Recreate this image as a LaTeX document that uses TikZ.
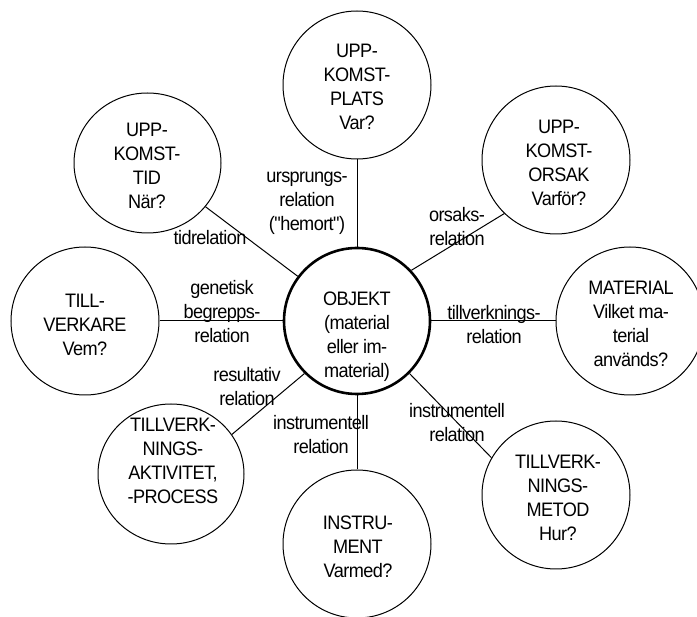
\documentclass[tikz,border=0pt]{standalone}
\usepackage{fontspec}
\setmainfont{Liberation Sans}[FakeStretch=0.93, LetterSpace=-3, Ligatures=TeXOff]
\usetikzlibrary{shapes.geometric}
\begin{document}
\begin{tikzpicture}[x=1pt,y=-1pt,
  every node/.style={font=\fontsize{19.5}{24}\selectfont, align=center, inner sep=0pt},
  bubble/.style={circle, draw, line width=1pt, minimum size=148pt},
  oval/.style={ellipse, draw, line width=1pt},
  link/.style={line width=1pt}]
\useasboundingbox (0,0) rectangle (697,617);
\fill[white] (0,0) rectangle (697,617);
\clip (0,0) rectangle (697,617);
% circles
\node[bubble] (plats) at (357,85) {};
\node[oval, minimum width=147pt, minimum height=140pt] (tid) at (147.5,163) {};
\node[bubble] (orsak) at (556,160) {};
\node[bubble] (verk) at (85,321) {};
\node[bubble, line width=2.6pt, minimum size=146pt] (obj) at (357,321) {};
\node[bubble] (mat) at (630,321) {};
\node[oval, minimum width=146pt, minimum height=140pt] (akt) at (171,474) {};
\node[bubble] (instr) at (357,544) {};
\node[bubble] (metod) at (556,495) {};
% circle texts
\node (platsT) at (357,87) {UPP-\\KOMST-\\PLATS\\Var?};
\node (tidT) at (147,166) {UPP-\\KOMST-\\TID\\När?};
\node (orsakT) at (559,163) {UPP-\\KOMST-\\ORSAK\\Varför?};
\node (verkT) at (85,325) {TILL-\\VERKARE\\Vem?};
\node (objT) at (357,337) {OBJEKT\\(material\\eller im-\\material)};
\node (matT) at (631,324) {MATERIAL\\Vilket ma-\\terial\\används?};
\node (aktT) at (173,461) {TILLVERK-\\NINGS-\\AKTIVITET,\\-PROCESS};
\node (instrT) at (358,547) {INSTRU-\\MENT\\Varmed?};
\node (metodT) at (558,498) {TILLVERK-\\NINGS-\\METOD\\Hur?};
% connectors
\draw[link] (plats) -- (obj);
\draw[link] (tid) -- (obj);
\draw[link] (orsak.226) -- (obj.43);
\draw[link] (verk) -- (obj);
\draw[link] (obj) -- (mat);
\draw[link] (akt.33) -- (obj.225);
\draw[link] (obj) -- (instr);
\draw[link] (obj.-45) -- (metod.150);
% labels
\node (l1) at (307,203) {ursprungs-\\relation\\("hemort")};
\node (l2) at (210,238) {tidrelation};
\node (l3) at (222,312) {genetisk\\begrepps-\\relation};
\node (l4) at (457,227) {orsaks-\\relation};
\node (l5) at (494,325) {tillverknings-\\relation};
\node (l6) at (247,387) {resultativ\\relation};
\node (l7) at (321,435) {instrumentell\\relation};
\node (l8) at (457,423) {instrumentell\\relation};
\end{tikzpicture}
\end{document}
